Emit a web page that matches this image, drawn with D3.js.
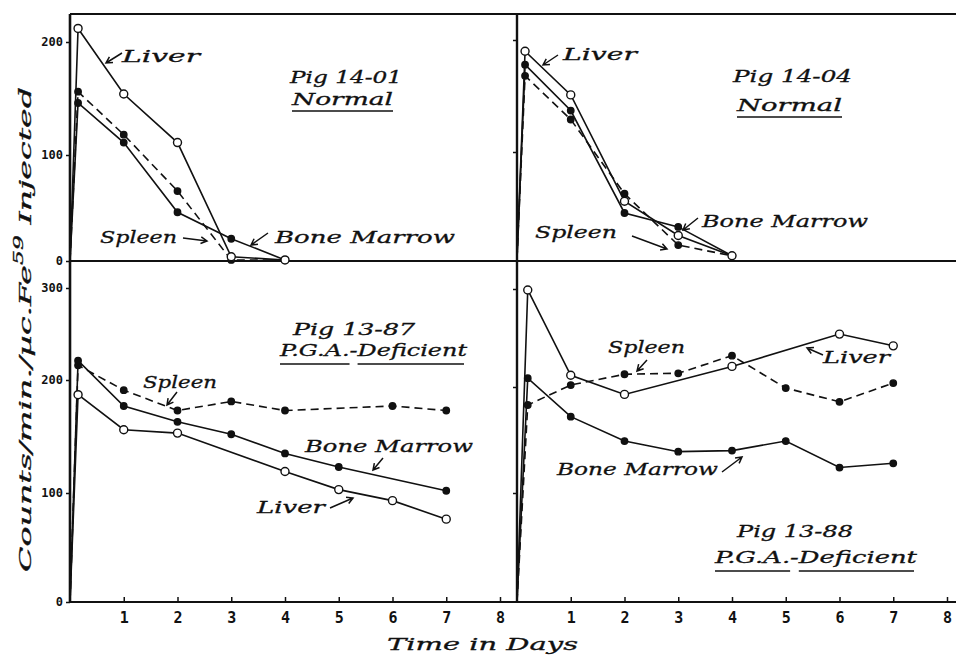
<!DOCTYPE html>
<html>
<head>
<meta charset="utf-8">
<script src="https://cdn.jsdelivr.net/npm/d3@7"></script>
<style>
  body { margin: 0; background: #fff; }
  svg { display: block; }
  .lbl { font-family: "DejaVu Serif", serif; font-style: italic; font-size: 17px; fill: #111; stroke: #111; stroke-width: 0.3; }
  .tick text { font-family: "DejaVu Sans Mono", monospace; font-weight: bold; fill: #111; }
  .tick line { stroke: #111; stroke-width: 1.5; }
</style>
</head>
<body>
<svg id="chart" width="956" height="658"></svg>
<script>
// ── Datos (cuentas/min/µc Fe59 inyectado vs días) ───────────────
// Pig 14-01, Normal
const DAYS_A   = [0, 0.15, 1, 2, 3, 4];
const LIVER_A  = [0, 212, 154, 111, 4, 1];
const SPLEEN_A = [0, 156, 118, 66, 1, 1];
const MARROW_A = [0, 146, 111, 46, 21, 1];

// Pig 14-04, Normal
const DAYS_B   = [0, 0.15, 1, 2, 3, 4];
const LIVER_B  = [0, 190, 151, 54, 22, 3];
const SPLEEN_B = [0, 168, 129, 61, 13, 3];
const MARROW_B = [0, 178, 137, 43, 30, 3];

// Pig 13-87, P.G.A.-Deficient
const DAYS_C   = [0, 0.15, 1, 2, 3, 4, 5, 6, 7];
const LIVER_C  = [0, 187, 156, 153, null, 119, 103, 93, 76];
const SPLEEN_C = [0, 216, 191, 173, 181, 173, null, 177, 173];
const MARROW_C = [0, 221, 177, 163, 152, 135, 123, null, 102];

// Pig 13-88, P.G.A.-Deficient
const DAYS_D   = [0, 0.2, 1, 2, 3, 4, 5, 6, 7];
const LIVER_D  = [0, 299, 212, 193, null, 221, null, 254, 242];
const SPLEEN_D = [0, 183, 202, 213, 214, 232, 199, 186, 204];
const MARROW_D = [0, 209, 172, 149, 139, 140, 149, 124, 128];

const X_TICKS      = [1, 2, 3, 4, 5, 6, 7, 8];
const Y_TICKS_TOP  = [0, 100, 200];
const Y_TICKS_BOT  = [0, 100, 200, 300];

// ── Escalas (dibujo a mano: ejes ligeramente irregulares) ───────
const svg = d3.select("#chart");
const xL = d3.scaleLinear().domain([0, 8]).range([70, 500]);
const xR = d3.scaleLinear().domain([0, 8]).range([517, 947]);
const yTL = d3.scaleLinear().domain([0, 100, 200]).range([261, 155, 42]);
const yTR = d3.scaleLinear().domain([0, 100, 200]).range([259, 152, 40]);
const yBL = d3.scaleLinear().domain([0, 100, 200, 300]).range([602, 493, 380, 288]);
const yBR = d3.scaleLinear().domain([0, 100, 200, 300]).range([602, 493, 387, 289]);

// ── Marco ───────────────────────────────────────────────────────
const frame = svg.append("g").attr("stroke", "#111").attr("fill", "none");
frame.append("line").attr("x1", xL(0)).attr("x2", 956).attr("y1", 14).attr("y2", 14).attr("stroke-width", 2);
frame.append("line").attr("x1", xL(0)).attr("x2", 956).attr("y1", yTL(0)).attr("y2", yTL(0)).attr("stroke-width", 2);
frame.append("line").attr("x1", xL(0)).attr("x2", 956).attr("y1", yBL(0)).attr("y2", yBL(0)).attr("stroke-width", 2);
frame.append("line").attr("x1", xL(0)).attr("x2", xL(0)).attr("y1", 14).attr("y2", yBL(0)).attr("stroke-width", 2.6);
frame.append("line").attr("x1", xR(0)).attr("x2", xR(0)).attr("y1", 14).attr("y2", yBL(0)).attr("stroke-width", 2.4);

// ── Ejes ────────────────────────────────────────────────────────
function yAxis(scale, x, ticks, labels) {
  const ax = d3.axisLeft(scale).tickValues(ticks).tickSize(4).tickPadding(3)
    .tickFormat(labels ? d3.format("d") : "");
  const g = svg.append("g").attr("transform", `translate(${x},0)`).call(ax);
  g.select(".domain").remove();
  g.selectAll(".tick text").attr("font-size", 12);
  return g;
}
yAxis(yTL, xL(0), Y_TICKS_TOP, true);
yAxis(yBL, xL(0), Y_TICKS_BOT, true);
yAxis(yTR, xR(0), [100, 200], false);
yAxis(yBR, xR(0), [100, 200, 300], false);

function xAxis(scale) {
  const g = svg.append("g").attr("transform", `translate(0,${yBL(0)})`)
    .call(d3.axisBottom(scale).tickValues(X_TICKS).tickSize(-5).tickPadding(10).tickFormat(d3.format("d")));
  g.select(".domain").remove();
  g.selectAll(".tick text").attr("font-size", 15);
}
xAxis(xL);
xAxis(xR);

// ── Curvas ──────────────────────────────────────────────────────
function series(x, y, days, vals, kind) {
  const pts = days.map((d, i) => [d, vals[i]]).filter(p => p[1] !== null);
  const line = d3.line().x(p => x(p[0])).y(p => y(p[1]));
  svg.append("path").datum(pts)
    .attr("d", line)
    .attr("fill", "none").attr("stroke", "#111").attr("stroke-width", 1.6)
    .attr("stroke-dasharray", kind === "spleen" ? "8,5" : null);
  svg.append("g").selectAll("circle")
    .data(pts.filter(p => p[0] > 0))
    .join("circle")
    .attr("cx", p => x(p[0])).attr("cy", p => y(p[1]))
    .attr("r", kind === "liver" ? 4 : 3.2)
    .attr("fill", kind === "liver" ? "#fff" : "#111")
    .attr("stroke", "#111").attr("stroke-width", 1.4);
}

[[xL, yTL, DAYS_A, [LIVER_A, SPLEEN_A, MARROW_A]],
 [xR, yTR, DAYS_B, [LIVER_B, SPLEEN_B, MARROW_B]],
 [xL, yBL, DAYS_C, [LIVER_C, SPLEEN_C, MARROW_C]],
 [xR, yBR, DAYS_D, [LIVER_D, SPLEEN_D, MARROW_D]]]
  .forEach(([x, y, days, [liver, spleen, marrow]]) => {
    series(x, y, days, spleen, "spleen");
    series(x, y, days, marrow, "marrow");
    series(x, y, days, liver, "liver");
  });

// ── Rótulos ─────────────────────────────────────────────────────
const LABELS = [
  // [texto, x, y base, ancho]
  ["Liver", 122, 62, 78], ["Spleen", 100, 243, 77], ["Bone Marrow", 275, 243, 180],
  ["Pig 14-01", 290, 83, 112], ["Normal", 292, 105, 101],
  ["Liver", 563, 60, 74], ["Spleen", 535, 238, 82], ["Bone Marrow", 702, 227, 166],
  ["Pig 14-04", 733, 82, 119], ["Normal", 737, 111, 105],
  ["Pig 13-87", 293, 335, 122], ["P.G.A.-Deficient", 280, 356, 187],
  ["Spleen", 143, 388, 74], ["Bone Marrow", 305, 452, 168], ["Liver", 257, 513, 68],
  ["Spleen", 608, 353, 77], ["Liver", 823, 363, 67], ["Bone Marrow", 557, 475, 161],
  ["Pig 13-88", 737, 537, 116], ["P.G.A.-Deficient", 715, 563, 202]
];

LABELS.forEach(([t, x, y, w]) => {
  const txt = svg.append("text").attr("class", "lbl")
    .attr("x", x).attr("y", y)
    .attr("textLength", w).attr("lengthAdjust", "spacingAndGlyphs")
    .text(t);
  if (t === "Normal") {
    svg.append("line").attr("x1", x).attr("x2", x + w).attr("y1", y + 6).attr("y2", y + 6)
      .attr("stroke", "#111").attr("stroke-width", 1.4);
  }
  if (t.startsWith("P.G.A.")) {
    const n = txt.node();
    const a = n.getExtentOfChar(0), b = n.getExtentOfChar(5);
    const c = n.getExtentOfChar(7), d = n.getExtentOfChar(t.length - 1);
    [[a.x, b.x + b.width], [c.x, d.x + d.width - 3]].forEach(([u, v]) => {
      svg.append("line").attr("x1", u).attr("x2", v).attr("y1", y + 8).attr("y2", y + 8)
        .attr("stroke", "#111").attr("stroke-width", 1.4);
    });
  }
});

// flechas de los rótulos
const ARROWS = [
  [122, 53, 106, 63], [183, 238, 207, 241], [268, 233, 251, 245],
  [558, 55, 543, 65], [632, 236, 667, 249], [698, 218, 683, 230],
  [177, 392, 167, 405], [383, 458, 373, 470], [330, 508, 353, 498],
  [647, 360, 637, 371], [823, 355, 807, 348], [722, 472, 742, 457]
];
ARROWS.forEach(([x1, y1, x2, y2]) => {
  const a = Math.atan2(y2 - y1, x2 - x1), L = 7, s = 0.5;
  const p = `M${x1},${y1}L${x2},${y2}` +
    `M${x2 - L * Math.cos(a - s)},${y2 - L * Math.sin(a - s)}L${x2},${y2}` +
    `L${x2 - L * Math.cos(a + s)},${y2 - L * Math.sin(a + s)}`;
  svg.append("path").attr("d", p).attr("fill", "none")
    .attr("stroke", "#111").attr("stroke-width", 1.5);
});

// ── Títulos de ejes ─────────────────────────────────────────────
const yt = svg.append("text").attr("class", "lbl")
  .attr("transform", "translate(31,572) rotate(-90)")
  .attr("font-size", 19)
  .attr("textLength", 485).attr("lengthAdjust", "spacingAndGlyphs");
yt.append("tspan").text("Counts/min./µc.Fe");
yt.append("tspan").attr("dy", -8).attr("font-size", 12).text("59");
yt.append("tspan").attr("dy", 8).text(" Injected");

svg.append("text").attr("class", "lbl")
  .attr("x", 387).attr("y", 650).attr("font-size", 20)
  .attr("textLength", 191).attr("lengthAdjust", "spacingAndGlyphs")
  .text("Time in Days");
</script>
</body>
</html>
